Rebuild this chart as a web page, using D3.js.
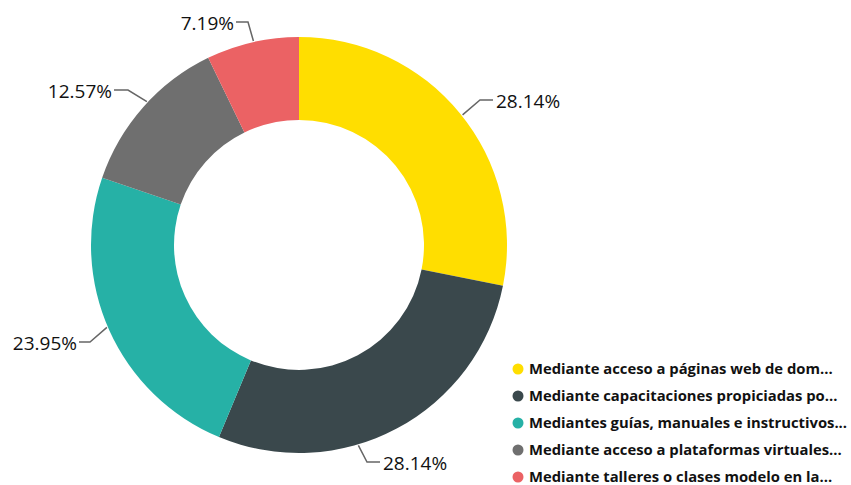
<!DOCTYPE html>
<html><head><meta charset="utf-8">
<script src="https://cdn.jsdelivr.net/npm/d3@7"></script>
<style>body{margin:0;background:#fff}</style>
</head><body>
<svg id="c" width="851" height="485"></svg>
<script>
const categories = [
  "Mediante acceso a páginas web de dom...",
  "Mediante capacitaciones propiciadas po...",
  "Mediantes guías, manuales e instructivos...",
  "Mediante acceso a plataformas virtuales...",
  "Mediante talleres o clases modelo en la..."
];
const values = [28.14, 28.14, 23.95, 12.57, 7.19];
const colors = ["#FFDE00", "#3A484C", "#26B1A6", "#6F6F6F", "#EB6264"];

// label layout (leader start angle in degrees, elbow point, end point, text side)
const labelLayout = [
  {ang: 51.5, elbow: [480, 100], end: [493, 100], side: "right"},
  {ang: 163.5, elbow: [367, 462], end: [380, 462], side: "right"},
  {ang: 246.8, elbow: [90, 342], end: [79, 342], side: "left"},
  {ang: 313.3, elbow: [128, 90], end: [114, 90], side: "left"},
  {ang: 347.4, elbow: [248, 22], end: [236, 22], side: "left"}
];

const svg = d3.select("#c");
const cx = 299, cy = 245, R = 208, r = 125;
const g = svg.append("g").attr("transform", `translate(${cx},${cy})`);
const pie = d3.pie().sort(null).value(d => d);
const arcs = pie(values);
const arc = d3.arc().innerRadius(r).outerRadius(R);
g.selectAll("path").data(arcs).join("path")
  .attr("d", arc).attr("fill", (d, i) => colors[i]);

// leader lines + labels
const fmt = v => v.toFixed(2) + "%";
arcs.forEach((d, i) => {
  const L = labelLayout[i];
  const a = L.ang * Math.PI / 180;
  const sx = cx + (R + 1) * Math.sin(a), sy = cy - (R + 1) * Math.cos(a);
  svg.append("polyline")
    .attr("points", [[sx, sy], L.elbow, L.end].map(p => p.join(",")).join(" "))
    .attr("fill", "none").attr("stroke", "#666").attr("stroke-width", 1.5);
  svg.append("text")
    .attr("x", L.side === "right" ? L.end[0] + 3 : L.end[0] - 2)
    .attr("y", L.end[1] + 1)
    .attr("dy", "0.35em")
    .attr("text-anchor", L.side === "right" ? "start" : "end")
    .style("font-family", "'Open Sans', sans-serif")
    .style("font-size", "19px")
    .attr("fill", "#111")
    .text(fmt(d.data));
});

// legend
const legY = d3.scalePoint().domain(d3.range(categories.length)).range([369, 477]);
const leg = svg.append("g");
categories.forEach((c, i) => {
  leg.append("circle").attr("cx", 518).attr("cy", legY(i)).attr("r", 5.5).attr("fill", colors[i]);
  leg.append("text").attr("x", 529).attr("y", legY(i)).attr("dy", "0.35em")
    .style("font-family", "'Open Sans', sans-serif").style("font-weight", "bold")
    .style("font-size", "14.8px").attr("fill", "#111").text(c);
});
</script>
</body></html>
